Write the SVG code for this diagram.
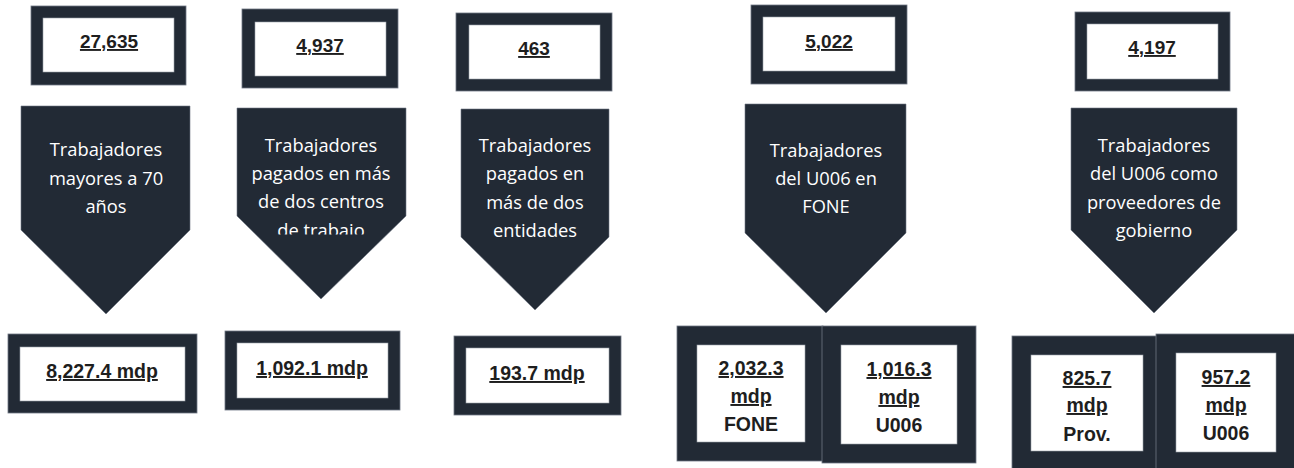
<svg xmlns="http://www.w3.org/2000/svg" width="1294" height="468" viewBox="0 0 1294 468">
<style>
.frame{fill:#222a35;stroke:#6f7784;stroke-width:0.8}
.inner{fill:#ffffff;stroke:#9aa0a8;stroke-width:0.6}
.chev{fill:#222a35;stroke:#6f7784;stroke-width:0.6}
.num{font-family:"Liberation Sans",Arial,sans-serif;font-weight:bold;font-size:19px;fill:#1e1e1e;text-anchor:middle;text-decoration:underline}
.val{font-family:"Liberation Sans",Arial,sans-serif;font-weight:bold;font-size:19.5px;fill:#1e1e1e;text-anchor:middle}
.u{text-decoration:underline}
.lbl{font-family:"Open Sans","Noto Sans",sans-serif;font-size:18.3px;fill:#ffffff;text-anchor:middle}
</style>
<defs>
<clipPath id="clipC2"><rect x="237" y="108" width="169" height="126.5"/></clipPath>
</defs>
<rect width="1294" height="468" fill="#ffffff"/>
<g id="connectors"/>

<!-- top count boxes -->
<g id="count1"><rect class="frame" x="31" y="6" width="155" height="79"/><rect class="inner" x="43" y="18" width="131" height="54"/><text class="num" x="109" y="48">27,635</text></g>
<g id="count2"><rect class="frame" x="242" y="9" width="156" height="79"/><rect class="inner" x="255" y="22" width="131" height="54"/><text class="num" x="320" y="52">4,937</text></g>
<g id="count3"><rect class="frame" x="456" y="13" width="156" height="78"/><rect class="inner" x="469" y="25" width="131" height="54"/><text class="num" x="534" y="55">463</text></g>
<g id="count4"><rect class="frame" x="751" y="5" width="156" height="79"/><rect class="inner" x="763" y="17" width="132" height="54"/><text class="num" x="829" y="48">5,022</text></g>
<g id="count5"><rect class="frame" x="1075" y="12" width="155" height="79"/><rect class="inner" x="1087" y="24" width="131" height="55"/><text class="num" x="1152" y="54">4,197</text></g>

<!-- chevrons -->
<g id="chevron1"><polygon class="chev" points="21,106 190,106 190,230 106,314 21,230"/>
<text class="lbl" x="106"><tspan x="106" y="156">Trabajadores</tspan><tspan x="106" y="185">mayores a 70</tspan><tspan x="106" y="213">años</tspan></text></g>
<g id="chevron2"><polygon class="chev" points="237,108 406,108 406,216 321,299 237,216"/>
<text class="lbl" x="321" clip-path="url(#clipC2)"><tspan x="321" y="152">Trabajadores</tspan><tspan x="321" y="180">pagados en más</tspan><tspan x="321" y="208">de dos centros</tspan><tspan x="321" y="237">de trabajo</tspan></text></g>
<g id="chevron3"><polygon class="chev" points="461,109 609,109 609,237 535,310 461,237"/>
<text class="lbl" x="535"><tspan x="535" y="152">Trabajadores</tspan><tspan x="535" y="180">pagados en</tspan><tspan x="535" y="209">más de dos</tspan><tspan x="535" y="237">entidades</tspan></text></g>
<g id="chevron4"><polygon class="chev" points="745,104 906,104 906,233 826,313 745,233"/>
<text class="lbl" x="826"><tspan x="826" y="157">Trabajadores</tspan><tspan x="826" y="185">del U006 en</tspan><tspan x="826" y="213">FONE</tspan></text></g>
<g id="chevron5"><polygon class="chev" points="1071,108 1237,108 1237,230 1154,313 1071,230"/>
<text class="lbl" x="1154"><tspan x="1154" y="152">Trabajadores</tspan><tspan x="1154" y="180">del U006 como</tspan><tspan x="1154" y="209">proveedores de</tspan><tspan x="1154" y="237">gobierno</tspan></text></g>

<!-- amount boxes -->
<g id="amount1"><rect class="frame" x="8" y="334" width="189" height="79"/><rect class="inner" x="20" y="347" width="165" height="54"/><text class="val u" x="102" y="378">8,227.4 mdp</text></g>
<g id="amount2"><rect class="frame" x="225" y="331" width="175" height="79"/><rect class="inner" x="237" y="343" width="151" height="55"/><text class="val u" x="312" y="375">1,092.1 mdp</text></g>
<g id="amount3"><rect class="frame" x="454" y="336" width="167" height="79"/><rect class="inner" x="466" y="348" width="143" height="55"/><text class="val u" x="537" y="380">193.7 mdp</text></g>

<g id="amount4a"><rect class="frame" x="677" y="326" width="146" height="135"/><rect class="inner" x="697" y="345" width="108" height="97"/>
<text class="val" x="751"><tspan class="u" x="751" y="375">2,032.3</tspan><tspan class="u" x="751" y="403">mdp</tspan><tspan x="751" y="431">FONE</tspan></text></g>
<g id="amount4b"><rect class="frame" x="822" y="326" width="154" height="137"/><rect class="inner" x="841" y="345" width="116" height="99"/>
<text class="val" x="899"><tspan class="u" x="899" y="376">1,016.3</tspan><tspan class="u" x="899" y="404">mdp</tspan><tspan x="899" y="432">U006</tspan></text></g>

<g id="amount5a"><rect class="frame" x="1012" y="336" width="145" height="134"/><rect class="inner" x="1031" y="355" width="112" height="96"/>
<text class="val" x="1087"><tspan class="u" x="1087" y="385">825.7</tspan><tspan class="u" x="1087" y="412">mdp</tspan><tspan x="1087" y="441">Prov.</tspan></text></g>
<g id="amount5b"><rect class="frame" x="1156" y="334" width="140" height="136"/><rect class="inner" x="1176" y="353" width="100" height="99"/>
<text class="val" x="1226"><tspan class="u" x="1226" y="384">957.2</tspan><tspan class="u" x="1226" y="412">mdp</tspan><tspan x="1226" y="440">U006</tspan></text></g>
</svg>
